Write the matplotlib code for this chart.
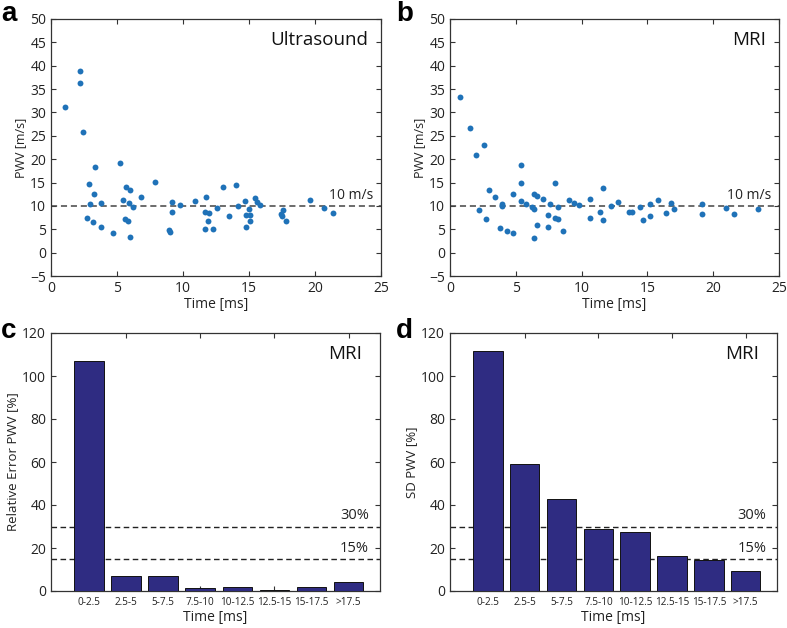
import matplotlib
matplotlib.use("Agg")
import matplotlib.pyplot as plt
import numpy as np

plt.rcParams['font.family'] = ['Open Sans', 'DejaVu Sans']

# ---- data ----
us_time = [1.04, 2.2, 2.2, 2.4, 3.3, 2.9, 3.26, 2.95, 2.7, 3.16, 3.76, 3.76, 4.72,
           5.25, 5.43, 5.7, 5.98, 5.93, 6.19, 5.63, 5.8, 5.98, 6.8, 7.9, 8.96, 9.0,
           9.14, 9.14, 9.77, 10.9, 11.74, 11.7, 11.97, 11.87, 11.7, 12.3, 12.58,
           13.0, 13.5, 13.99, 14.2, 14.67, 14.8, 14.75, 15.0, 15.08, 15.05, 15.48,
           15.58, 15.83, 17.45, 17.5, 17.6, 17.8, 19.6, 20.7, 21.4]
us_pwv = [31.2, 38.8, 36.4, 25.9, 18.3, 14.6, 12.5, 10.4, 7.5, 6.5, 10.7, 5.4, 4.2,
          19.1, 11.2, 14.1, 13.3, 10.7, 9.7, 7.1, 6.8, 3.4, 11.9, 15.1, 4.8, 4.4,
          10.9, 8.8, 10.2, 11.1, 12.0, 8.6, 8.4, 6.7, 5.1, 5.1, 9.6,
          14.1, 7.9, 14.4, 9.9, 11.0, 8.1, 5.5, 9.4, 8.1, 6.7, 11.6,
          10.9, 10.1, 8.2, 7.8, 9.1, 6.8, 11.2, 9.6, 8.5]

mri_time = [0.76, 1.54, 1.97, 2.58, 2.18, 2.76, 2.99, 3.42, 3.95, 3.97, 3.8, 4.35,
            4.78, 4.76, 5.39, 5.39, 5.39, 5.8, 6.2, 6.38, 6.38, 6.58, 7.04, 6.6,
            6.38, 7.42, 7.42, 7.6, 8.0, 7.97, 8.23, 8.2, 8.6, 9.04, 9.42, 9.82,
            10.63, 10.63, 11.42, 11.6, 11.6, 12.2, 12.78, 13.6, 13.8, 14.4, 14.63,
            15.2, 15.2, 15.8, 16.4, 16.8, 17.0, 19.17, 19.17, 21.0, 21.6, 23.4]
mri_pwv = [33.3, 26.6, 20.9, 23.1, 9.1, 7.1, 13.4, 11.8, 10.4, 10.0, 5.2, 4.6,
           4.1, 12.5, 18.8, 14.9, 11.1, 10.4, 9.8, 9.4, 12.6, 12.2, 11.4, 6.0,
           3.1, 8.1, 5.4, 10.5, 14.9, 7.4, 7.3, 9.8, 4.6, 11.2, 10.7, 10.2,
           11.4, 7.4, 8.8, 13.9, 6.9, 9.9, 10.9, 8.8, 8.6, 9.7, 6.9,
           10.5, 7.8, 11.3, 8.5, 10.7, 9.4, 10.4, 8.3, 9.6, 8.3, 9.4]

bins = ['0-2.5', '2.5-5', '5-7.5', '7.5-10', '10-12.5', '12.5-15', '15-17.5', '>17.5']
rel_error = [107.0, 7.0, 6.8, 1.4, 1.7, 0.6, 1.9, 4.2]
sd_pwv = [111.6, 59.1, 42.9, 28.8, 27.3, 16.3, 14.6, 9.3]

ref_pwv = 10
thresholds = [30, 15]

W, H = 787, 628
fig = plt.figure(figsize=(W / 100, H / 100), dpi=100)

def box(l, r, t, b):
    return [l / W, 1 - b / H, (r - l) / W, (b - t) / H]

ax_a = fig.add_axes(box(51, 381, 19, 276))
ax_b = fig.add_axes(box(450, 779, 19, 276))
ax_c = fig.add_axes(box(51, 380, 333, 591))
ax_d = fig.add_axes(box(450, 777, 333, 591))

frame_col = '#333333'
dot_col = '#1f72b8'
bar_col = '#2f2c82'

def style(ax):
    for s in ax.spines.values():
        s.set_color(frame_col)
        s.set_linewidth(0.9)
    ax.tick_params(direction='in', top=True, right=True, length=3.5, width=0.8,
                   color=frame_col, labelsize=10, labelcolor='#222222')

for ax, t, v, label in [(ax_a, us_time, us_pwv, 'Ultrasound'), (ax_b, mri_time, mri_pwv, 'MRI')]:
    ax.scatter(t, v, s=18, color=dot_col, zorder=3, linewidths=0)
    ax.set_xlim(0, 25)
    ax.set_ylim(-5, 50)
    ax.set_xticks(np.arange(0, 26, 5))
    ax.set_yticks(np.arange(-5, 51, 5))
    ax.axhline(ref_pwv, color='#444444', lw=1.1, ls=(0, (4, 2.5)), zorder=2)
    ax.text(0.977, (ref_pwv + 5 + 0.6) / 55, '10 m/s', transform=ax.transAxes,
            ha='right', va='bottom', fontsize=10, color='#222222')
    ax.text(0.962, 0.918, label, transform=ax.transAxes, ha='right', va='center',
            fontsize=13.5, color='#111111')
    style(ax)
    ax.set_xlabel('Time [ms]', fontsize=10, labelpad=1, color='#222222')
    ax.set_ylabel('PWV [m/s]', fontsize=9, labelpad=2, color='#222222')

x = np.arange(1, len(bins) + 1)
for ax, vals, ylabel in [(ax_c, rel_error, 'Relative Error PWV [%]'), (ax_d, sd_pwv, 'SD PWV [%]')]:
    ax.bar(x, vals, width=0.8, color=bar_col, edgecolor='#111111', linewidth=0.7, zorder=3)
    ax.set_xlim(-0.03, 8.85)
    ax.set_ylim(0, 120)
    ax.set_yticks(np.arange(0, 121, 20))
    style(ax)
    ax.xaxis.remove_overlapping_locs = False
    ax.set_xticks([2, 4, 6, 8])
    ax.set_xticklabels([])
    ax.set_xticks(x, bins, minor=True)
    ax.tick_params(axis='x', which='minor', length=0, top=False, bottom=False,
                   labelsize=7.2, pad=4, labelcolor='#222222')
    for th in thresholds:
        ax.axhline(th, color='#222222', lw=1.0, ls=(0, (4, 2.5)), zorder=2)
        ax.text(0.967, (th + 1.5) / 120, f'{th}%', transform=ax.transAxes,
                ha='right', va='bottom', fontsize=10.5, color='#222222')
    ax.text(0.945, 0.918, 'MRI', transform=ax.transAxes, ha='right', va='center',
            fontsize=13.5, color='#111111')
    ax.set_xlabel('Time [ms]', fontsize=10, labelpad=2, color='#222222')
    ax.set_ylabel(ylabel, fontsize=9.5, labelpad=2, color='#222222')

for letter, (px, py) in zip('abcd', [(1, 1), (396, 1), (1, 318), (396, 318)]):
    fig.text(px / W, 1 - py / H, letter, fontsize=20, fontweight='bold',
             family=['Liberation Sans', 'DejaVu Sans'], ha='left', va='top')

fig.savefig('out.png', dpi=100)
